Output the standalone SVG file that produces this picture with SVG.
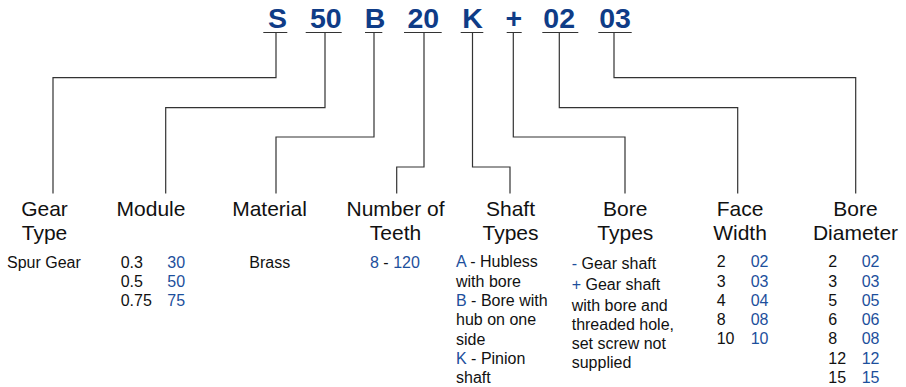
<svg xmlns="http://www.w3.org/2000/svg" width="906" height="387" viewBox="0 0 906 387">
<style>
.code{font-family:"Liberation Sans",Arial,sans-serif;font-weight:bold;font-size:28.5px;fill:#0f3c87;text-anchor:middle}
.lbl{font-family:"Liberation Sans",Arial,sans-serif;font-size:21px;fill:#111;text-anchor:middle}
.t{font-family:"Liberation Sans",Arial,sans-serif;font-size:16px;fill:#111}
.b{fill:#1d4f9c}
.ln{fill:none;stroke:#333;stroke-width:1.2}
</style>
<rect width="906" height="387" fill="#fff"/>
<g id="code">
<text class="code" x="277.5" y="27.5">S</text>
<text class="code" x="325.8" y="27.5">50</text>
<text class="code" x="375" y="27.5">B</text>
<text class="code" x="423.3" y="27.5">20</text>
<text class="code" x="472.5" y="27.5">K</text>
<text class="code" x="513.8" y="27.5">+</text>
<text class="code" x="559.2" y="27.5">02</text>
<text class="code" x="615" y="27.5">03</text>
</g>
<g id="connectors" class="ln">
<path d="M263.3,32.5H287.3M305.7,32.5H341.7M365,32.5H382.3M404,32.5H441.7M460.7,32.5H483.3M506.7,32.5H521.7M542.3,32.5H578.3M598.3,32.5H631.7"/>
<path d="M276,32.5V77.7H53V193.5"/>
<path d="M325,32.5V107.7H165.7V193.5"/>
<path d="M374,32.5V137H276V193.5"/>
<path d="M424,32.5V167H396.7V193.5"/>
<path d="M472.5,32.5V167H510V193.5"/>
<path d="M513.3,32.5V137H625V193.5"/>
<path d="M559.3,32.5V107.7H737.7V193.5"/>
<path d="M614,32.5V77.7H855.7V193.5"/>
</g>
<g id="gear-type">
<text class="lbl" x="44.5" y="216">Gear</text>
<text class="lbl" x="44.5" y="240">Type</text>
<text class="t" x="7" y="267.5">Spur Gear</text>
</g>
<g id="module">
<text class="lbl" x="151" y="216">Module</text>
<text class="t" x="120.7" y="267.5">0.3</text><text class="t b" x="167.3" y="267.5">30</text>
<text class="t" x="120.7" y="286.8">0.5</text><text class="t b" x="167.3" y="286.8">50</text>
<text class="t" x="120.7" y="306">0.75</text><text class="t b" x="167.3" y="306">75</text>
</g>
<g id="material">
<text class="lbl" x="269.5" y="216">Material</text>
<text class="t" x="249.3" y="267.5">Brass</text>
</g>
<g id="teeth">
<text class="lbl" x="395.5" y="216">Number of</text>
<text class="lbl" x="395.5" y="240">Teeth</text>
<text class="t" x="370" y="267.5"><tspan class="b">8</tspan> - <tspan class="b">120</tspan></text>
</g>
<g id="shaft-types">
<text class="lbl" x="510.5" y="216">Shaft</text>
<text class="lbl" x="510.5" y="240">Types</text>
<text class="t" x="456" y="267.3"><tspan class="b">A</tspan> - Hubless</text>
<text class="t" x="456" y="286.6">with bore</text>
<text class="t" x="456" y="306"><tspan class="b">B</tspan> - Bore with</text>
<text class="t" x="456" y="325.3">hub on one</text>
<text class="t" x="456" y="344.6">side</text>
<text class="t" x="456" y="364"><tspan class="b">K</tspan> - Pinion</text>
<text class="t" x="456" y="383.3">shaft</text>
</g>
<g id="bore-types">
<text class="lbl" x="625.3" y="216">Bore</text>
<text class="lbl" x="625.3" y="240">Types</text>
<text class="t" x="571.7" y="269"><tspan class="b">-</tspan> Gear shaft</text>
<text class="t" x="571.7" y="290"><tspan class="b">+</tspan> Gear shaft</text>
<text class="t" x="571.7" y="310.5">with bore and</text>
<text class="t" x="571.7" y="330">threaded hole,</text>
<text class="t" x="571.7" y="349">set screw not</text>
<text class="t" x="571.7" y="368.3">supplied</text>
</g>
<g id="face-width">
<text class="lbl" x="740" y="216">Face</text>
<text class="lbl" x="740" y="240">Width</text>
<text class="t" x="716.7" y="267.3">2</text><text class="t b" x="750.7" y="267.3">02</text>
<text class="t" x="716.7" y="286.5">3</text><text class="t b" x="750.7" y="286.5">03</text>
<text class="t" x="716.7" y="305.8">4</text><text class="t b" x="750.7" y="305.8">04</text>
<text class="t" x="716.7" y="325">8</text><text class="t b" x="750.7" y="325">08</text>
<text class="t" x="716.7" y="344.3">10</text><text class="t b" x="750.7" y="344.3">10</text>
</g>
<g id="bore-diameter">
<text class="lbl" x="855.5" y="216">Bore</text>
<text class="lbl" x="855.5" y="240">Diameter</text>
<text class="t" x="828.3" y="267.3">2</text><text class="t b" x="861.7" y="267.3">02</text>
<text class="t" x="828.3" y="286.5">3</text><text class="t b" x="861.7" y="286.5">03</text>
<text class="t" x="828.3" y="305.8">5</text><text class="t b" x="861.7" y="305.8">05</text>
<text class="t" x="828.3" y="325">6</text><text class="t b" x="861.7" y="325">06</text>
<text class="t" x="828.3" y="344.3">8</text><text class="t b" x="861.7" y="344.3">08</text>
<text class="t" x="828.3" y="363.5">12</text><text class="t b" x="861.7" y="363.5">12</text>
<text class="t" x="828.3" y="382.8">15</text><text class="t b" x="861.7" y="382.8">15</text>
</g>
</svg>
